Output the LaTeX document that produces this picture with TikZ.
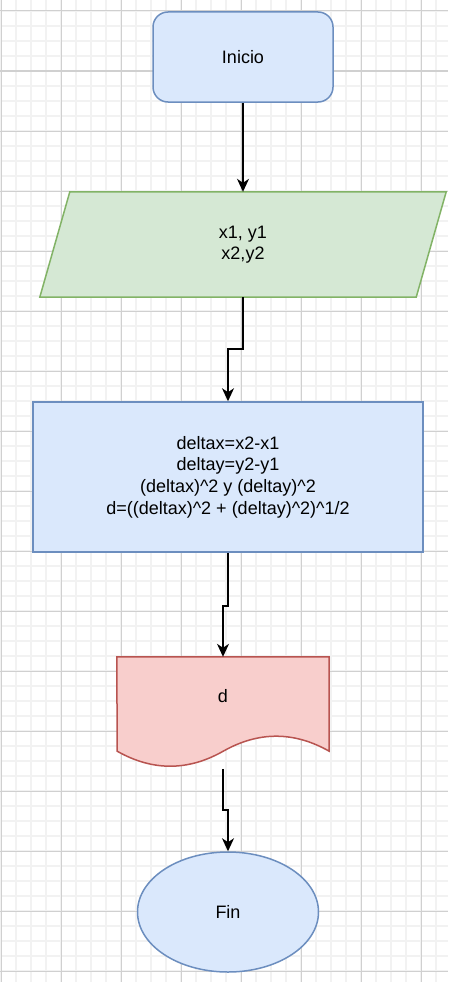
\documentclass[tikz,border=0pt]{standalone}
\usepackage{fontspec}
\setmainfont{Liberation Sans}
\usetikzlibrary{arrows.meta}
\usetikzlibrary{shapes.geometric}
\usetikzlibrary{backgrounds}

\definecolor{azulfondo}{HTML}{DAE8FC}
\definecolor{azulborde}{HTML}{6C8EBF}
\definecolor{verdefondo}{HTML}{D5E8D4}
\definecolor{verdeborde}{HTML}{82B366}
\definecolor{rojofondo}{HTML}{F8CECC}
\definecolor{rojoborde}{HTML}{B85450}
\definecolor{rejillafina}{HTML}{F2F2F2}
\definecolor{rejillagruesa}{HTML}{D0D0D0}

\begin{document}
\begin{tikzpicture}[x=1pt,y=-1pt,
	texto/.style={inner sep=0pt,align=center,font=\fontsize{18}{21.6}\selectfont},
	azul/.style={texto,draw=azulborde,fill=azulfondo,line width=1.5pt},
	flecha/.style={line width=1.5pt,-{Stealth[length=13pt,width=12pt,inset=4pt]}}]
			\useasboundingbox (0,0) rectangle (448,982);
			
			% rejilla
			
			\begin{scope}[on background layer]
				\fill[white] (0,0) rectangle (448,982);
				\foreach \gx in {1,16,...,448} {
					\draw[rejillafina,line width=1.5pt] (\gx,0) -- (\gx,982);
				}
				\foreach \gy in {11,26,...,982} {
					\draw[rejillafina,line width=1.5pt] (0,\gy) -- (448,\gy);
				}
				\foreach \gx in {1,61,...,448} {
					\draw[rejillagruesa,line width=1pt] (\gx,0) -- (\gx,982);
				}
				\foreach \gy in {11,71,...,982} {
					\draw[rejillagruesa,line width=1pt] (0,\gy) -- (448,\gy);
				}
			\end{scope}
			
			% inicio
			
			\node[azul,rounded corners=15pt,minimum width=180pt,minimum height=90pt] (inicio) at (243,57) {Inicio};
			
			% datos
			
			\node[texto,minimum width=406pt,minimum height=105pt] (datos) at (243,244.5) {x1, y1\\x2,y2};
			\begin{scope}[on background layer]
				\filldraw[draw=verdeborde,fill=verdefondo,line width=1.5pt] ([xshift=30pt]datos.north west) -- (datos.north east) -- ([xshift=-30pt]datos.south east) -- (datos.south west) -- cycle;
			\end{scope}
			
			% proceso
			
			\node[azul,minimum width=390pt,minimum height=150pt] (proceso) at (228,477) {deltax=x2-x1\\deltay=y2-y1\\(deltax)\textasciicircum2 y (deltay)\textasciicircum2\\d=((deltax)\textasciicircum2 + (deltay)\textasciicircum2)\textasciicircum1/2};
			
			% salida
			
			\node[texto,minimum width=212pt,minimum height=78pt] (salida) at (223,696) {d};
			\begin{scope}[on background layer]
				\filldraw[draw=rojoborde,fill=rojofondo,line width=1.5pt] (salida.north west) -- (salida.north east) -- ++(0,94.4)
					.. controls +(-35.3,-20) and +(35.3,-20) .. ++(-106,0)
					.. controls +(-35.3,20) and +(35.3,20) .. ++(-106,0) -- cycle;
			\end{scope}
			\coordinate (salidafin) at ([yshift=-112pt]salida.north);
			
			% fin
			
			\node[azul,ellipse,minimum width=181pt,minimum height=120pt] (fin) at (228,912) {Fin};
			
			\draw[flecha] (inicio) -- (datos);
			\draw[flecha] (datos.south) -- ++(0,52) -| (proceso.north);
			\draw[flecha] (proceso.south) -- ++(0,53) -| (salida.north);
			\draw[flecha] (salidafin) -- ++(0,41) -| (fin.north);
		\end{tikzpicture}
\end{document}
